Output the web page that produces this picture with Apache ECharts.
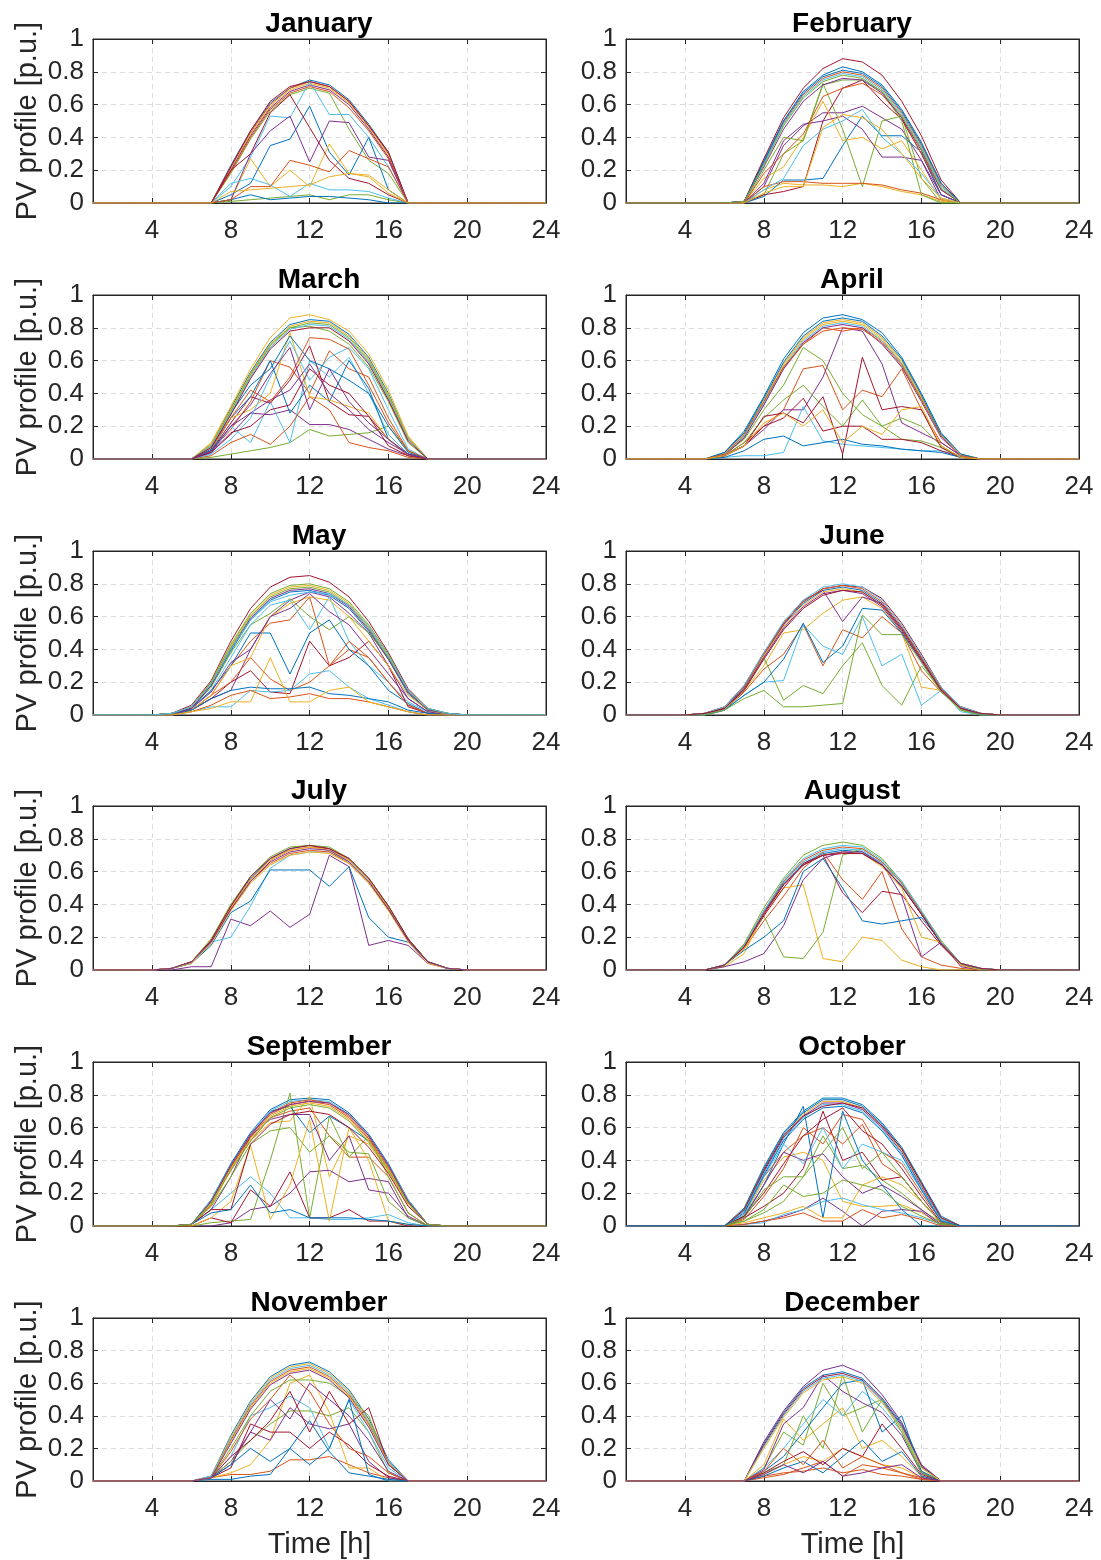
<!DOCTYPE html>
<html>
<head>
<meta charset="utf-8">
<script src="https://cdn.jsdelivr.net/npm/echarts@6/dist/echarts.min.js"></script>
<style>
    html, body { margin: 0; padding: 0; background: #fff; }
    #pvProfiles { width: 1101px; height: 1560px; }
</style>
</head>
<body>
<div id="pvProfiles"></div>
<script>
// hours of the day on the x axis
const hours = [1,2,3,4,5,6,7,8,9,10,11,12,13,14,15,16,17,18,19,20,21,22,23,24]
const xTickValues = [4, 8, 12, 16, 20, 24]
const monthNames = ['January','February','March','April','May','June','July','August','September','October','November','December']

// every day below lists the hours 5..20, the other hours are 0
const firstListedHour = 5

const jan = [
    [0,0,0,.23,.44,.61,.70,.75,.72,.63,.48,.31,0,0,0,0],
    [0,0,0,.22,.43,.60,.70,.74,.71,.62,.47,.30,0,0,0,0],
    [0,0,0,.21,.42,.59,.69,.73,.70,.61,.46,.29,0,0,0,0],
    [0,0,0,.20,.41,.58,.68,.72,.69,.60,.45,.28,0,0,0,0],
    [0,0,0,.18,.39,.56,.66,.70,.67,.45,.26,.18,0,0,0,0],
    [0,0,0,.10,.28,.53,.52,.74,.54,.54,.40,.22,0,0,0,0],
    [0,0,0,.22,.44,.62,.71,.74,.71,.62,.47,.31,0,0,0,0],
    [0,0,0,.05,.12,.35,.39,.59,.31,.17,.40,.08,0,0,0,0],
    [0,0,0,.19,.40,.57,.67,.71,.68,.58,.44,.27,0,0,0,0],
    [0,0,0,.02,.27,.10,.20,.10,.36,.18,.17,.08,0,0,0,0],
    [0,0,0,.02,.30,.44,.53,.25,.50,.49,.28,.26,0,0,0,0],
    [0,0,0,.01,.02,.03,.04,.05,.02,.05,.05,.02,0,0,0,0],
    [0,0,0,.12,.15,.11,.04,.12,.08,.08,.07,.03,0,0,0,0],
    [0,0,0,.20,.30,.55,.66,.46,.26,.15,.12,.05,0,0,0,0],
    [0,0,0,.02,.05,.02,.03,.04,.04,.03,.02,0,0,0,0,0],
    [0,0,0,.02,.10,.10,.26,.23,.19,.32,.27,.22,0,0,0,0],
    [0,0,0,.07,.08,.09,.10,.11,.16,.18,.16,.06,0,0,0,0],
]

const feb = [
    [0,0,.01,.26,.50,.67,.77,.81,.79,.71,.56,.36,.12,0,0,0],
    [0,0,.01,.25,.49,.66,.76,.80,.78,.70,.55,.35,.11,0,0,0],
    [0,0,0,.08,.12,.11,.11,.10,.12,.10,.07,.05,.01,0,0,0],
    [0,0,0,.10,.35,.47,.55,.55,.59,.52,.45,.26,.02,0,0,0],
    [0,0,.01,.05,.30,.38,.73,.45,.10,.50,.53,.15,0,0,0,0],
    [0,0,.01,.24,.48,.65,.75,.79,.77,.69,.54,.34,.10,0,0,0],
    [0,0,0,.05,.07,.10,.50,.70,.75,.62,.51,.30,.05,0,0,0],
    [0,0,0,.04,.14,.14,.15,.35,.53,.41,.41,.31,.05,0,0,0],
    [0,0,0,.10,.13,.13,.12,.12,.12,.11,.08,.06,.02,0,0,0],
    [0,0,0,.15,.22,.40,.62,.38,.40,.33,.38,.20,.02,0,0,0],
    [0,0,0,.12,.38,.48,.50,.53,.45,.28,.28,.26,.05,0,0,0],
    [0,0,0,.20,.40,.38,.72,.75,.75,.68,.50,.05,0,0,0,0],
    [0,0,0,.08,.15,.35,.45,.50,.57,.40,.30,.18,.03,0,0,0],
    [0,0,.01,.27,.52,.70,.82,.88,.86,.78,.62,.41,.14,0,0,0],
    [0,0,.01,.25,.50,.68,.78,.83,.80,.72,.57,.37,.12,0,0,0],
    [0,0,0,.18,.30,.42,.65,.70,.73,.66,.52,.30,.08,0,0,0],
    [0,0,0,.06,.10,.10,.46,.54,.52,.45,.30,.15,.03,0,0,0],
    [0,0,.01,.22,.45,.62,.72,.76,.75,.67,.52,.32,.08,0,0,0],
    [0,0,.01,.23,.47,.64,.74,.78,.76,.68,.53,.33,.09,0,0,0],
]

const mar = [
    [0,0,.09,.31,.53,.71,.82,.85,.84,.76,.62,.40,.13,0,0,0],
    [0,0,.05,.18,.35,.60,.56,.40,.66,.55,.50,.25,.05,0,0,0],
    [0,0,.10,.32,.55,.74,.86,.88,.85,.78,.64,.42,.14,0,0,0],
    [0,0,.04,.20,.28,.27,.30,.21,.21,.18,.12,.06,.02,0,0,0],
    [0,0,.01,.03,.05,.07,.10,.18,.14,.15,.16,.20,.05,0,0,0],
    [0,0,.03,.20,.10,.35,.10,.60,.50,.62,.40,.15,.03,0,0,0],
    [0,0,.05,.22,.38,.34,.48,.69,.35,.27,.26,.12,.03,0,0,0],
    [0,0,.05,.25,.38,.60,.28,.45,.35,.60,.43,.12,.02,0,0,0],
    [0,0,.02,.10,.15,.09,.20,.38,.30,.10,.07,.05,.01,0,0,0],
    [0,0,.06,.25,.30,.40,.77,.38,.36,.32,.28,.12,.02,0,0,0],
    [0,0,.04,.15,.28,.36,.42,.58,.40,.30,.18,.10,.03,0,0,0],
    [0,0,.08,.30,.52,.70,.80,.81,.78,.70,.56,.35,.10,0,0,0],
    [0,0,.03,.12,.25,.50,.72,.48,.62,.68,.55,.30,.06,0,0,0],
    [0,0,.04,.16,.20,.30,.33,.55,.45,.40,.26,.08,.02,0,0,0],
    [0,0,.06,.28,.45,.55,.75,.60,.55,.48,.40,.20,.04,0,0,0],
    [0,0,.07,.25,.42,.35,.50,.74,.73,.67,.45,.22,.05,0,0,0],
    [0,0,.09,.30,.52,.70,.81,.84,.83,.75,.61,.39,.13,0,0,0],
    [0,0,.05,.20,.33,.52,.68,.30,.55,.35,.22,.12,.03,0,0,0],
    [0,0,.08,.29,.51,.69,.80,.83,.82,.74,.60,.38,.12,0,0,0],
    [0,0,.08,.28,.50,.68,.79,.82,.81,.73,.59,.37,.12,0,0,0],
    [0,0,.07,.27,.49,.67,.78,.80,.80,.72,.58,.36,.11,0,0,0],
]

const apr = [
    [0,.04,.17,.38,.61,.77,.86,.88,.85,.77,.62,.40,.16,.03,0,0],
    [0,.02,.10,.20,.30,.55,.57,.30,.42,.38,.55,.30,.10,.02,0,0],
    [0,.03,.15,.36,.58,.74,.83,.85,.83,.74,.60,.38,.15,.03,0,0],
    [0,.02,.08,.18,.30,.30,.50,.80,.78,.58,.22,.16,.10,.02,0,0],
    [0,.03,.12,.30,.45,.68,.60,.40,.27,.20,.12,.11,.07,.01,0,0],
    [0,.01,.02,.02,.04,.32,.11,.09,.08,.07,.06,.05,.05,.02,0,0],
    [0,.02,.08,.20,.25,.37,.17,.20,.20,.12,.12,.10,.05,.01,0,0],
    [0,.01,.05,.12,.14,.08,.10,.12,.09,.08,.06,.05,.04,.01,0,0],
    [0,.03,.13,.33,.55,.70,.80,.78,.80,.72,.58,.37,.14,.02,0,0],
    [0,.03,.14,.35,.57,.73,.82,.84,.82,.73,.59,.37,.14,.02,0,0],
    [0,.02,.13,.33,.55,.71,.80,.82,.80,.70,.56,.35,.13,.02,0,0],
    [0,.02,.10,.25,.36,.45,.32,.20,.36,.20,.25,.20,.08,.01,0,0],
    [0,.03,.14,.34,.56,.72,.81,.83,.81,.72,.58,.36,.14,.02,0,0],
    [0,.02,.08,.26,.28,.22,.38,.03,.62,.30,.32,.30,.07,.01,0,0],
    [0,.04,.16,.37,.59,.75,.84,.86,.84,.75,.61,.39,.15,.03,0,0],
    [0,.03,.15,.35,.56,.70,.78,.80,.79,.71,.57,.36,.14,.02,0,0],
    [0,.02,.08,.22,.28,.20,.30,.10,.20,.15,.30,.32,.08,.01,0,0],
]

const may = [
    [.01,.04,.18,.39,.58,.70,.75,.76,.73,.65,.51,.34,.13,.03,.01,0],
    [.01,.03,.12,.30,.45,.56,.58,.72,.30,.40,.35,.20,.06,.01,0,0],
    [.01,.05,.20,.42,.61,.73,.78,.79,.76,.68,.54,.36,.15,.04,.01,0],
    [0,.03,.10,.15,.40,.60,.70,.75,.72,.62,.50,.30,.10,.02,0,0],
    [0,.04,.17,.38,.55,.62,.71,.60,.52,.60,.50,.35,.14,.03,0,0],
    [0,.04,.15,.35,.55,.67,.70,.52,.72,.45,.30,.20,.08,.02,0,0],
    [0,.03,.10,.20,.27,.14,.13,.45,.30,.35,.45,.30,.05,.01,0,0],
    [0,.04,.15,.30,.50,.50,.25,.50,.58,.40,.30,.15,.07,.01,0,0],
    [0,.03,.12,.20,.35,.22,.15,.20,.30,.45,.35,.20,.06,.01,0,0],
    [0,.03,.12,.30,.35,.60,.68,.72,.70,.60,.45,.30,.12,.03,0,0],
    [0,.04,.14,.32,.40,.60,.65,.74,.63,.55,.40,.25,.10,.02,0,0],
    [.01,.05,.19,.41,.60,.72,.77,.78,.75,.67,.53,.35,.14,.03,.01,0],
    [0,.02,.05,.05,.15,.14,.15,.25,.27,.17,.10,.06,.02,0,0,0],
    [.01,.06,.21,.45,.65,.78,.84,.85,.81,.72,.57,.38,.16,.04,.01,0],
    [0,.03,.10,.15,.17,.16,.16,.17,.13,.12,.10,.08,.03,.01,0,0],
    [0,.02,.06,.12,.15,.10,.11,.13,.10,.10,.08,.05,.02,0,0,0],
    [0,.02,.04,.08,.08,.35,.08,.08,.15,.17,.08,.05,.02,0,0,0],
    [.01,.04,.18,.40,.59,.71,.76,.77,.74,.66,.52,.34,.14,.03,.01,0],
    [.01,.05,.20,.43,.62,.74,.79,.80,.77,.69,.55,.37,.15,.04,.01,0],
    [.01,.05,.19,.40,.58,.69,.73,.75,.74,.67,.54,.36,.15,.04,.01,0],
]

const jun = [
    [.01,.04,.17,.37,.55,.68,.76,.78,.76,.68,.53,.35,.16,.05,.01,0],
    [0,.03,.14,.28,.37,.55,.30,.52,.47,.60,.50,.27,.14,.04,0,0],
    [0,.04,.15,.30,.50,.52,.62,.70,.72,.65,.50,.17,.15,.03,0,0],
    [.01,.04,.16,.36,.55,.70,.76,.57,.72,.68,.53,.35,.16,.04,.01,0],
    [0,.03,.15,.35,.09,.18,.13,.30,.44,.18,.06,.30,.15,.03,0,0],
    [0,.03,.12,.20,.21,.55,.42,.37,.60,.30,.37,.06,.15,.02,0,0],
    [.01,.05,.18,.38,.56,.69,.77,.79,.78,.71,.56,.37,.17,.05,.01,0],
    [0,.03,.12,.20,.34,.56,.32,.42,.65,.64,.50,.33,.15,.04,0,0],
    [.01,.05,.17,.37,.56,.69,.77,.79,.77,.69,.54,.35,.16,.05,.01,0],
    [.01,.04,.16,.36,.54,.67,.75,.77,.75,.67,.52,.34,.15,.04,.01,0],
    [.01,.04,.16,.35,.53,.66,.74,.76,.74,.66,.51,.33,.15,.04,.01,0],
    [0,.03,.10,.15,.05,.05,.06,.07,.61,.49,.49,.32,.14,.03,0,0],
    [.01,.05,.18,.38,.57,.70,.78,.80,.78,.70,.55,.36,.17,.05,.01,0],
    [.01,.04,.15,.34,.52,.65,.73,.76,.75,.67,.52,.34,.15,.04,.01,0],
]

const jul = [
    [.01,.05,.18,.39,.56,.68,.74,.76,.74,.68,.56,.39,.19,.05,.01,0],
    [.01,.05,.18,.38,.55,.67,.73,.75,.74,.67,.55,.38,.19,.05,.01,0],
    [.01,.05,.17,.38,.55,.67,.73,.75,.73,.67,.55,.38,.18,.05,.01,0],
    [0,.02,.02,.31,.27,.36,.26,.34,.70,.63,.15,.18,.15,.04,.01,0],
    [.01,.05,.19,.40,.57,.69,.75,.76,.75,.68,.56,.39,.19,.05,.01,0],
    [.01,.04,.17,.20,.39,.62,.70,.72,.72,.66,.54,.37,.18,.05,.01,0],
    [.01,.05,.18,.39,.57,.68,.74,.76,.74,.68,.56,.39,.19,.05,.01,0],
    [.01,.04,.15,.35,.42,.61,.61,.61,.51,.63,.32,.20,.17,.05,.01,0],
    [.01,.05,.17,.37,.54,.65,.71,.73,.72,.65,.53,.37,.18,.05,.01,0],
    [.01,.04,.16,.36,.53,.64,.70,.72,.71,.65,.53,.36,.17,.04,.01,0],
    [.01,.05,.17,.37,.54,.66,.72,.74,.73,.66,.54,.37,.18,.05,.01,0],
]

const aug = [
    [0,.03,.14,.35,.53,.65,.71,.73,.72,.64,.51,.34,.16,.04,.01,0],
    [0,.03,.13,.30,.45,.62,.72,.55,.43,.60,.25,.08,.03,.01,0,0],
    [0,.02,.10,.35,.50,.52,.07,.05,.20,.18,.06,.02,0,0,0,0],
    [0,.02,.05,.10,.27,.55,.68,.72,.72,.65,.45,.08,.17,.02,0,0],
    [0,.03,.15,.33,.08,.07,.23,.70,.74,.66,.53,.35,.17,.04,.01,0],
    [0,.03,.15,.36,.54,.66,.72,.74,.73,.65,.52,.35,.17,.04,.01,0],
    [0,.03,.14,.33,.50,.65,.70,.47,.35,.48,.46,.30,.15,.03,0,0],
    [0,.03,.12,.20,.30,.60,.68,.50,.30,.28,.30,.32,.17,.04,0,0],
    [0,.03,.15,.36,.54,.67,.73,.75,.74,.66,.53,.35,.17,.04,.01,0],
    [0,.03,.13,.34,.52,.64,.70,.72,.71,.63,.50,.20,.17,.03,0,0],
    [0,.03,.14,.35,.52,.64,.70,.72,.71,.64,.51,.34,.16,.04,.01,0],
    [0,.03,.16,.38,.56,.70,.76,.78,.76,.68,.54,.36,.18,.04,.01,0],
    [0,.03,.15,.36,.55,.68,.74,.76,.75,.67,.54,.36,.17,.04,.01,0],
    [0,.03,.14,.34,.52,.64,.70,.71,.71,.64,.51,.34,.16,.04,.01,0],
]

const sep = [
    [0,.01,.16,.38,.57,.71,.77,.78,.77,.69,.56,.38,.16,.01,0,0],
    [0,.01,.13,.34,.52,.66,.70,.72,.55,.42,.42,.30,.08,0,0,0],
    [0,.01,.12,.35,.52,.63,.64,.79,.30,.55,.50,.33,.13,.01,0,0],
    [0,0,0,.02,.10,.12,.20,.33,.34,.27,.29,.27,.05,0,0,0],
    [0,0,.02,.03,.04,.40,.81,.05,.67,.42,.55,.30,.08,0,0,0],
    [0,.01,.10,.20,.30,.20,.05,.05,.04,.04,.05,.07,.02,0,0,0],
    [0,0,.05,.02,.22,.12,.33,.05,.05,.10,.03,.03,0,0,0,0],
    [0,.01,.15,.36,.55,.70,.73,.57,.67,.60,.52,.35,.14,.01,0,0],
    [0,.01,.15,.36,.54,.68,.74,.76,.74,.66,.53,.35,.15,.01,0,0],
    [0,0,.05,.15,.49,.04,.25,.65,.03,.60,.40,.03,.01,0,0,0],
    [0,.01,.10,.30,.55,.65,.68,.68,.40,.55,.22,.20,.06,0,0,0],
    [0,.01,.12,.30,.50,.58,.60,.45,.55,.45,.44,.15,.05,0,0,0],
    [0,.01,.16,.37,.56,.70,.76,.77,.76,.68,.55,.37,.16,.01,0,0],
    [0,.01,.10,.10,.50,.62,.68,.70,.68,.60,.48,.32,.12,.01,0,0],
    [0,.01,.08,.10,.25,.08,.10,.05,.05,.05,.04,.03,.01,0,0,0],
    [0,.01,.15,.36,.55,.69,.75,.77,.75,.67,.54,.36,.15,.01,0,0],
    [0,.01,.14,.35,.53,.67,.73,.75,.73,.65,.52,.35,.14,.01,0,0],
    [0,.01,.15,.37,.56,.69,.74,.76,.75,.68,.55,.37,.15,.01,0,0],
    [0,.01,.14,.34,.52,.66,.72,.74,.72,.64,.51,.34,.14,.01,0,0],
]

const oct = [
    [0,0,.11,.36,.57,.70,.78,.78,.74,.63,.48,.27,.06,0,0,0],
    [0,0,.04,.18,.35,.60,.50,.68,.65,.45,.38,.20,.03,0,0,0],
    [0,0,.06,.28,.42,.45,.40,.15,.12,.12,.13,.08,.01,0,0,0],
    [0,0,.01,.03,.06,.10,.17,.09,0,.09,.10,.09,0,0,0,0],
    [0,0,.03,.08,.15,.30,.55,.35,.37,.28,.20,.10,.02,0,0,0],
    [0,0,.01,.02,.07,.10,.15,.17,.13,.10,.08,.05,.01,0,0,0],
    [0,0,.05,.12,.20,.35,.70,.40,.45,.28,.30,.15,.02,0,0,0],
    [0,0,.06,.25,.50,.73,.05,.70,.40,.25,.10,0,0,0,0,0],
    [0,0,.07,.30,.45,.55,.60,.50,.62,.38,.30,.15,.02,0,0,0],
    [0,0,.02,.05,.08,.12,.05,.05,.25,.30,.25,.15,.02,0,0,0],
    [0,0,.05,.25,.45,.40,.44,.30,.20,.25,.18,.10,.01,0,0,0],
    [0,0,.03,.10,.25,.18,.20,.28,.25,.22,.12,.06,.01,0,0,0],
    [0,0,.07,.30,.50,.38,.60,.35,.50,.45,.40,.22,.03,0,0,0],
    [0,0,.06,.20,.38,.55,.65,.72,.58,.50,.35,.18,.02,0,0,0],
    [0,0,.10,.35,.56,.69,.77,.77,.73,.62,.47,.26,.05,0,0,0],
    [0,0,.01,.03,.05,.08,.03,.03,.10,.05,.07,.04,0,0,0,0],
    [0,0,.10,.34,.55,.68,.76,.76,.72,.61,.46,.25,.05,0,0,0],
    [0,0,.09,.33,.54,.67,.75,.75,.71,.60,.45,.24,.04,0,0,0],
    [0,0,.05,.22,.30,.30,.45,.60,.35,.45,.30,.15,.02,0,0,0],
    [0,0,.09,.32,.53,.66,.74,.74,.70,.59,.44,.23,.04,0,0,0],
    [0,0,.10,.34,.55,.67,.73,.75,.72,.61,.47,.26,.05,0,0,0],
    [0,0,.08,.31,.52,.65,.72,.73,.69,.58,.43,.22,.03,0,0,0],
]

const nov = [
    [0,0,.03,.28,.49,.64,.71,.73,.67,.56,.38,.13,0,0,0,0],
    [0,0,.02,.04,.04,.06,.13,.13,.15,.10,.05,.02,0,0,0,0],
    [0,0,.02,.05,.10,.25,.60,.65,.42,.08,.08,0,0,0,0,0],
    [0,0,.02,.12,.30,.25,.45,.35,.32,.35,.12,.02,0,0,0,0],
    [0,0,.02,.12,.25,.35,.43,.43,.40,.45,.30,.05,0,0,0,0],
    [0,0,.02,.15,.40,.45,.52,.45,.20,.50,.30,.08,0,0,0,0],
    [0,0,.02,.08,.35,.30,.30,.20,.30,.22,.10,.03,0,0,0,0],
    [0,0,.01,.01,.03,.04,.20,.37,.18,.05,.03,.01,0,0,0,0],
    [0,0,.02,.18,.38,.50,.65,.55,.35,.20,.15,.05,0,0,0,0],
    [0,0,.03,.27,.48,.63,.70,.72,.66,.55,.37,.12,0,0,0,0],
    [0,0,.02,.10,.30,.50,.38,.60,.50,.40,.25,.06,0,0,0,0],
    [0,0,.02,.20,.40,.55,.62,.62,.60,.52,.40,.10,0,0,0,0],
    [0,0,.03,.26,.47,.62,.69,.71,.65,.54,.36,.12,0,0,0,0],
    [0,0,.02,.15,.25,.37,.55,.30,.55,.35,.45,.10,0,0,0,0],
    [0,0,.02,.10,.20,.12,.20,.10,.20,.50,.04,0,0,0,0,0],
    [0,0,.02,.25,.46,.61,.68,.70,.64,.53,.35,.11,0,0,0,0],
    [0,0,.02,.24,.45,.60,.67,.69,.63,.52,.34,.11,0,0,0,0],
    [0,0,.02,.23,.44,.59,.66,.68,.62,.51,.33,.10,0,0,0,0],
]

const dec = [
    [0,0,0,.23,.42,.57,.65,.67,.63,.51,.35,.09,0,0,0,0],
    [0,0,0,.03,.05,.06,.08,.05,.07,.04,.03,.01,0,0,0,0],
    [0,0,0,.04,.10,.15,.12,.20,.15,.10,.08,.02,0,0,0,0],
    [0,0,0,.24,.43,.58,.68,.71,.66,.53,.36,.10,0,0,0,0],
    [0,0,0,.08,.30,.22,.60,.40,.45,.50,.32,.06,0,0,0,0],
    [0,0,0,.08,.20,.35,.50,.40,.55,.45,.30,.05,0,0,0,0],
    [0,0,0,.22,.41,.56,.64,.66,.62,.50,.34,.09,0,0,0,0],
    [0,0,0,.06,.15,.30,.45,.60,.62,.30,.40,.06,0,0,0,0],
    [0,0,0,.02,.04,.08,.12,.03,.10,.08,.05,.02,0,0,0,0],
    [0,0,0,.10,.38,.25,.35,.45,.20,.25,.15,.03,0,0,0,0],
    [0,0,0,.07,.35,.45,.65,.55,.48,.42,.28,.05,0,0,0,0],
    [0,0,0,.05,.10,.40,.20,.65,.30,.50,.30,.05,0,0,0,0],
    [0,0,0,.21,.40,.55,.63,.65,.61,.49,.33,.08,0,0,0,0],
    [0,0,0,.05,.12,.18,.10,.20,.15,.35,.20,.04,0,0,0,0],
    [0,0,0,.03,.08,.12,.05,.15,.25,.12,.18,.03,0,0,0,0],
    [0,0,0,.06,.20,.10,.25,.08,.15,.10,.05,.01,0,0,0,0],
    [0,0,0,.20,.39,.54,.62,.64,.60,.48,.32,.08,0,0,0,0],
    [0,0,0,.04,.10,.05,.12,.03,.05,.08,.10,.02,0,0,0,0],
]

const monthDays = [jan, feb, mar, apr, may, jun, jul, aug, sep, oct, nov, dec]

// MATLAB default line colours
const lineColors = ['#0072BD', '#D95319', '#EDB120', '#7E2F8E', '#77AC30', '#4DBEEE', '#A2142F']
const fontFamily = '"Liberation Sans", Arial, Helvetica, sans-serif'
const axisColor = '#262626'
const gridLineStyle = { color: '#dcdcdc', width: 1, type: [5, 4] }

function dayPoints(day) {
    return hours.map(h => {
        const i = h - firstListedHour
        return [h, (i >= 0 && i < day.length) ? day[i] : 0]
    })
}

const grids = []
const titles = []
const xAxes = []
const yAxes = []
const series = []

for (let m = 0; m < 12; m++) {
    const col = m % 2
    const row = Math.floor(m / 2)
    const left = col === 0 ? 93 : 626
    const top = Math.round(39 + row * 255.8)

    grids.push({
        left: left, top: top, width: 453, height: 164,
        show: true, borderColor: axisColor, borderWidth: 1,
        backgroundColor: 'transparent'
    })

    titles.push({
        text: monthNames[m],
        left: left + 226, top: top - 29,
        textAlign: 'center',
        padding: 0,
        textStyle: { fontFamily: fontFamily, fontSize: 28, fontWeight: 'bold', color: '#000' }
    })

    xAxes[m] = {
        type: 'value', gridIndex: m, min: 1, max: 24,
        name: row === 5 ? 'Time [h]' : '',
        nameLocation: 'middle', nameGap: 49,
        nameTextStyle: { fontFamily: fontFamily, fontSize: 29, color: axisColor },
        axisLine: { show: true, onZero: false, lineStyle: { color: axisColor, width: 1 } },
        axisTick: { show: true, inside: true, length: 5, customValues: xTickValues, lineStyle: { color: axisColor } },
        axisLabel: { customValues: xTickValues, fontFamily: fontFamily, fontSize: 26, color: axisColor, margin: 15 },
        splitLine: { show: true, lineStyle: gridLineStyle },
    }
    // mirrored axis on top: box edge and inward ticks
    xAxes[12 + m] = {
        type: 'value', gridIndex: m, min: 1, max: 24, position: 'top',
        axisLine: { show: true, onZero: false, lineStyle: { color: axisColor, width: 1 } },
        axisTick: { show: true, inside: true, length: 5, customValues: xTickValues, lineStyle: { color: axisColor } },
        axisLabel: { show: false },
        splitLine: { show: false },
    }

    yAxes[m] = {
        type: 'value', gridIndex: m, min: 0, max: 1, interval: 0.2,
        name: col === 0 ? 'PV profile [p.u.]' : '',
        nameLocation: 'middle', nameGap: 51,
        nameTextStyle: { fontFamily: fontFamily, fontSize: 29, color: axisColor },
        axisLine: { show: true, lineStyle: { color: axisColor, width: 1 } },
        axisTick: { show: true, inside: true, length: 5, lineStyle: { color: axisColor } },
        axisLabel: { fontFamily: fontFamily, fontSize: 26, color: axisColor, margin: 9 },
        splitLine: { show: true, lineStyle: gridLineStyle },
    }
    // mirrored axis on the right
    yAxes[12 + m] = {
        type: 'value', gridIndex: m, min: 0, max: 1, interval: 0.2, position: 'right',
        axisLine: { show: true, onZero: false, lineStyle: { color: axisColor, width: 1 } },
        axisTick: { show: true, inside: true, length: 5, lineStyle: { color: axisColor } },
        axisLabel: { show: false },
        splitLine: { show: false },
    }

    monthDays[m].forEach((day, d) => {
        series.push({
            type: 'line',
            xAxisIndex: m,
            yAxisIndex: m,
            data: dayPoints(day),
            showSymbol: false,
            symbol: 'none',
            lineStyle: { width: 1, color: lineColors[d % lineColors.length] },
            silent: true,
        })
    })
}

const chart = echarts.init(document.getElementById('pvProfiles'), null, { renderer: 'canvas' })
chart.setOption({
    animation: false,
    backgroundColor: '#fff',
    textStyle: { fontFamily: fontFamily },
    title: titles,
    grid: grids,
    xAxis: xAxes,
    yAxis: yAxes,
    series: series,
})
</script>
</body>
</html>
